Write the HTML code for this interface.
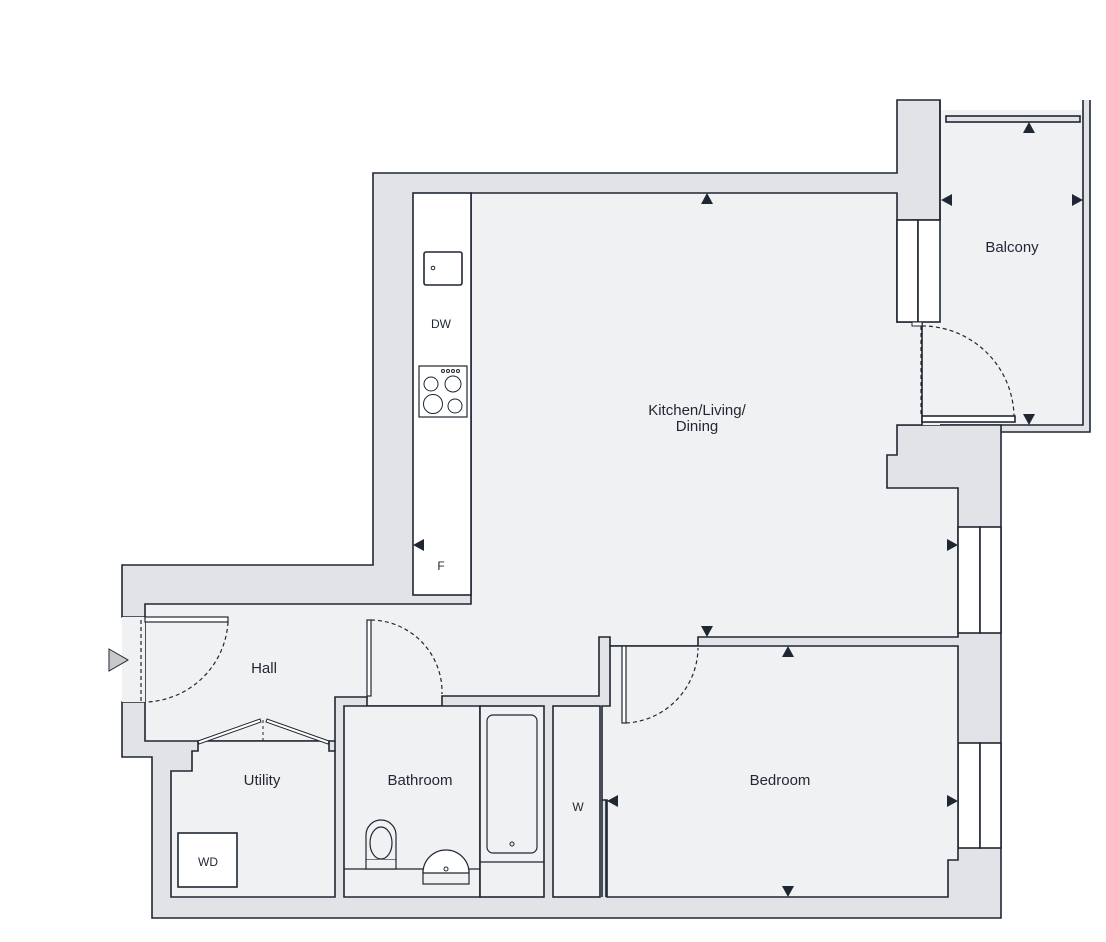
<!DOCTYPE html>
<html><head><meta charset="utf-8"><style>
html,body{margin:0;padding:0;background:#fff;}
svg{display:block;}
text{font-family:"Liberation Sans",sans-serif;fill:#1f2733;}
</style></head><body>
<svg width="1106" height="942" viewBox="0 0 1106 942" xmlns="http://www.w3.org/2000/svg">
<g stroke="#1f2733" stroke-width="1.6" stroke-linejoin="miter">
<!-- balcony frame -->
<polygon points="897,100 940,100 940,425 1001,425 1001,432 1090,432 1090,100 1083,100 1083,425 940,425 940,100" fill="#e2e3e6" stroke="none"/>
<rect x="940" y="110" width="143" height="315" fill="#f0f1f3" stroke="none"/>
<polyline points="1083,100 1083,425 922,425" fill="none"/>
<polyline points="1090,100 1090,432 1001,432" fill="none"/>
<rect x="946" y="116" width="134" height="6" fill="#e2e3e6"/>
<!-- outer grey walls -->
<polygon points="373,173 897,173 897,100 940,100 940,220 897,220 897,425 1001,425 1001,918 152,918 152,757 122,757 122,702 145,702 145,617 122,617 122,565 373,565" fill="#e2e3e6"/>
<rect x="922" y="220" width="18" height="205" fill="#f0f1f3" stroke="none"/>
<line x1="940" y1="100" x2="940" y2="220"/>
<!-- kitchen/hall floor -->
<polygon points="471,193 897,193 897,322 922,322 922,425 897,425 897,455 887,455 887,488 958,488 958,637 698,637 698,646 626,646 610,646 610,637 599,637 599,696 442,696 442,706 367,706 367,697 335,697 335,741 145,741 145,604 471,604" fill="#f0f1f3"/>
<rect x="122" y="617" width="23" height="85" fill="#f0f1f3" stroke="none"/>
<!-- counter -->
<rect x="413" y="193" width="58" height="402" fill="#fff"/>
<rect x="424" y="252" width="38" height="33" rx="2" fill="#fff"/>
<circle cx="433" cy="268" r="1.8" fill="none" stroke-width="1"/>
<rect x="419" y="366" width="48" height="51" fill="#fff" stroke-width="1.2"/>
<g fill="none" stroke-width="1">
<circle cx="431" cy="384" r="7"/><circle cx="453" cy="384" r="8"/><circle cx="433" cy="404" r="9.5"/><circle cx="455" cy="406" r="7"/>
<circle cx="443" cy="371" r="1.5"/><circle cx="448" cy="371" r="1.5"/><circle cx="453" cy="371" r="1.5"/><circle cx="458" cy="371" r="1.5"/>
</g>
<!-- balcony window/door -->
<rect x="897" y="220" width="21" height="102" fill="#fff"/>
<rect x="918" y="220" width="22" height="102" fill="#fff"/>
<rect x="912" y="322" width="10" height="4" fill="#fff" stroke-width="1"/>
<rect x="922" y="416" width="93" height="6" fill="#fff"/>
<line x1="921" y1="326" x2="921" y2="416" stroke-dasharray="4,3" stroke-width="1.2"/>
<path d="M922,326 A92,92 0 0 1 1014,416" fill="none" stroke-dasharray="4,3" stroke-width="1.2"/>
<!-- right windows -->
<rect x="958" y="527" width="22" height="106" fill="#fff"/>
<rect x="980" y="527" width="21" height="106" fill="#fff"/>
<rect x="958" y="743" width="22" height="105" fill="#fff"/>
<rect x="980" y="743" width="21" height="105" fill="#fff"/>
<!-- bedroom -->
<polygon points="698,646 958,646 958,860 948,860 948,897 607,897 607,800 602,800 602,706 610,706 610,646 626,646" fill="#f0f1f3"/>
<line x1="602" y1="800" x2="602" y2="897"/><line x1="606" y1="800" x2="606" y2="897"/>
<rect x="622" y="646" width="4" height="77" fill="#fff" stroke-width="1.2"/>
<path d="M626,723 A76,76 0 0 0 698,648" fill="none" stroke-dasharray="4,3" stroke-width="1.2"/>
<!-- W cupboard -->
<rect x="553" y="706" width="47" height="191" fill="#f0f1f3"/>
<!-- bathroom -->
<polygon points="344,706 367,706 442,706 480,706 480,897 344,897" fill="#f0f1f3"/>
<rect x="367" y="620" width="4" height="76" fill="#fff" stroke-width="1.2"/>
<path d="M371,620 A72,72 0 0 1 442,694" fill="none" stroke-dasharray="4,3" stroke-width="1.2"/>
<line x1="344" y1="869" x2="480" y2="869" stroke-width="1.2"/>
<rect x="480" y="706" width="64" height="191" fill="#f0f1f3"/>
<rect x="487" y="715" width="50" height="138" rx="6" fill="#f0f1f3" stroke-width="1.2"/>
<circle cx="512" cy="844" r="2" fill="none" stroke-width="1"/>
<line x1="480" y1="862" x2="544" y2="862" stroke-width="1.2"/>
<rect x="366" y="859" width="30" height="10" fill="#f0f1f3" stroke-width="1.2"/>
<path d="M366,859 L366,835 A15,15 0 0 1 396,835 L396,859" fill="#f0f1f3" stroke-width="1.2"/>
<ellipse cx="381" cy="843" rx="11" ry="16" fill="none" stroke-width="1.2"/>
<rect x="423" y="870" width="46" height="14" fill="#f0f1f3" stroke-width="1.2"/>
<path d="M423,873 A23,23 0 0 1 469,873 Z" fill="#fff" stroke-width="1.2"/>
<circle cx="446" cy="869" r="2" fill="none" stroke-width="1"/>
<!-- utility -->
<polygon points="198,741 198,751 192,751 192,771 171,771 171,897 335,897 335,751 329,751 329,741" fill="#f0f1f3"/>
<polyline points="335,741 335,751" fill="none"/>
<rect x="178" y="833" width="59" height="54" fill="#fff"/>
<polygon points="198,741 260,719 261,722 199,744" fill="#fff" stroke-width="1"/>
<polygon points="329,741 267,719 266,722 328,744" fill="#fff" stroke-width="1"/>
<line x1="263" y1="720" x2="263" y2="741" stroke-dasharray="3,3" stroke-width="1"/>
<!-- entry door -->
<rect x="145" y="617" width="83" height="5" fill="#fff" stroke-width="1.2"/>
<line x1="141" y1="620" x2="141" y2="702" stroke-dasharray="4,3" stroke-width="1.2"/>
<path d="M228,622 A85,85 0 0 1 145,702" fill="none" stroke-dasharray="4,3" stroke-width="1.2"/>
</g>
<polygon points="109,649 128,660 109,671" fill="#c8c9cd" stroke="#1f2733" stroke-width="1"/>
<!-- arrows -->
<g fill="#1f2733">
<polygon points="707,193 701,204 713,204"/>
<polygon points="1029,122 1023,133 1035,133"/>
<polygon points="941,200 952,194 952,206"/>
<polygon points="1083,200 1072,194 1072,206"/>
<polygon points="1029,425 1023,414 1035,414"/>
<polygon points="413,545 424,539 424,551"/>
<polygon points="958,545 947,539 947,551"/>
<polygon points="707,637 701,626 713,626"/>
<polygon points="788,646 782,657 794,657"/>
<polygon points="607,801 618,795 618,807"/>
<polygon points="958,801 947,795 947,807"/>
<polygon points="788,897 782,886 794,886"/>
</g>
<g font-size="15" text-anchor="middle">
<text x="1012" y="252">Balcony</text>
<text x="697" y="415">Kitchen/Living/</text>
<text x="697" y="431">Dining</text>
<text x="264" y="673">Hall</text>
<text x="262" y="785">Utility</text>
<text x="420" y="785">Bathroom</text>
<text x="780" y="785">Bedroom</text>
</g>
<g font-size="12" text-anchor="middle">
<text x="441" y="328">DW</text>
<text x="441" y="570">F</text>
<text x="578" y="811">W</text>
<text x="208" y="866">WD</text>
</g>
</svg>
</body></html>
